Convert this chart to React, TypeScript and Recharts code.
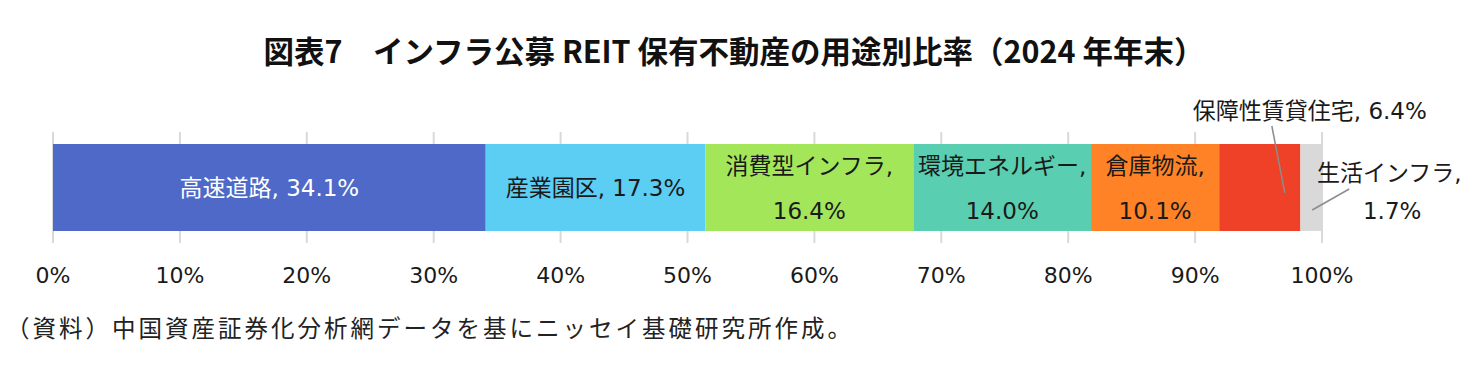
import React from 'react';
import { BarChart, Bar, XAxis, YAxis, CartesianGrid, LabelList } from 'recharts';

// 用途別比率（%）
const categories = ['高速道路', '産業園区', '消費型インフラ', '環境エネルギー', '倉庫物流', '保障性賃貸住宅', '生活インフラ'];
const shares = [34.1, 17.3, 16.4, 14.0, 10.1, 6.4, 1.7];
const xTicks = [0, 10, 20, 30, 40, 50, 60, 70, 80, 90, 100];

const COLORS = ['#4E69C7', '#5CCDF3', '#A4E65A', '#5ACEB0', '#FF8226', '#EE4127', '#D9D9D9'];
// how each label is drawn: inside one line / inside two lines / callouts
const LABEL_MODE = ['one', 'one', 'two', 'two', 'two', 'calloutTop', 'calloutRight'];

const FONT = '"DejaVu Sans", "Noto Sans CJK JP", sans-serif';

const row: Record<string, number | string> = { name: 'all' };
categories.forEach((c, i) => { row[c] = shares[i]; });
const data = [row];

const makeLabel = (index: number) => (props: any) => {
  const { x, y, width, height } = props;
  const name = categories[index];
  const pct = `${shares[index].toFixed(1)}%`;
  const cx = x + width / 2;
  const cy = y + height / 2;
  const mode = LABEL_MODE[index];
  const fill = index === 0 ? '#ffffff' : '#1a1a1a';
  const common = { fontFamily: FONT, fontSize: 23, textAnchor: 'middle' as const, dominantBaseline: 'central' as const };
  if (mode === 'one') {
    return <text x={cx} y={cy} fill={fill} {...common}>{`${name}, ${pct}`}</text>;
  }
  if (mode === 'two') {
    return (
      <g>
        <text x={cx} y={cy - 22} fill={fill} {...common}>{`${name},`}</text>
        <text x={cx} y={cy + 23} fill={fill} {...common}>{pct}</text>
      </g>
    );
  }
  if (mode === 'calloutTop') {
    return (
      <g>
        <line x1={cx + 12} y1={y - 18} x2={cx + 25} y2={y + 49} stroke="#8c8c8c" strokeWidth={1.5} />
        <text x={cx + 50} y={y - 33} fill={fill} {...common}>{`${name}, ${pct}`}</text>
      </g>
    );
  }
  return (
    <g>
      <line x1={cx + 38} y1={y + 45} x2={cx + 1} y2={y + 66} stroke="#8c8c8c" strokeWidth={1.5} />
      <text x={cx + 78} y={y + 29} fill={fill} {...common}>{`${name},`}</text>
      <text x={cx + 81} y={y + 67} fill={fill} {...common}>{pct}</text>
    </g>
  );
};

export default function App() {
  return (
    <div style={{ position: 'absolute', left: 0, top: 0, width: 1479, height: 378, background: '#fff' }}>
      <div
        style={{
          position: 'absolute', left: 0, top: 29, width: 1468, textAlign: 'center',
          fontFamily: '"Noto Sans CJK JP", sans-serif', fontWeight: 700, fontSize: 30.5, color: '#111', lineHeight: '42px',
        }}
      >
        図表7　インフラ公募 REIT 保有不動産の用途別比率（2024 年年末）
      </div>
      <div style={{ position: 'absolute', left: 0, top: 0 }}>
        <BarChart
          width={1479}
          height={378}
          data={data}
          layout="vertical"
          margin={{ top: 132, right: 157, bottom: 105, left: 53 }}
        >
          <CartesianGrid horizontal={false} stroke="#d9d9d9" strokeWidth={2} />
          <XAxis
            type="number"
            domain={[0, 100]}
            ticks={xTicks}
            tickFormatter={(v: number) => `${v}%`}
            axisLine={false}
            tickLine={false}
            tickSize={0}
            tickMargin={24}
            height={30}
            tick={{ fontFamily: FONT, fontSize: 22, fill: '#1a1a1a' }}
            interval={0}
          />
          <YAxis type="category" dataKey="name" hide width={0} />
          {categories.map((c, i) => (
            <Bar key={c} dataKey={c} stackId="s" fill={COLORS[i]} barSize={87} isAnimationActive={false}>
              <LabelList dataKey={c} content={makeLabel(i)} />
            </Bar>
          ))}
        </BarChart>
      </div>
      <div
        style={{
          position: 'absolute', left: 6, top: 311, whiteSpace: 'nowrap', letterSpacing: 3,
          fontFamily: '"Noto Sans CJK JP", sans-serif', fontSize: 23.5, color: '#222', lineHeight: '32px',
        }}
      >
        （資料）中国資産証券化分析網データを基にニッセイ基礎研究所作成。
      </div>
    </div>
  );
}
